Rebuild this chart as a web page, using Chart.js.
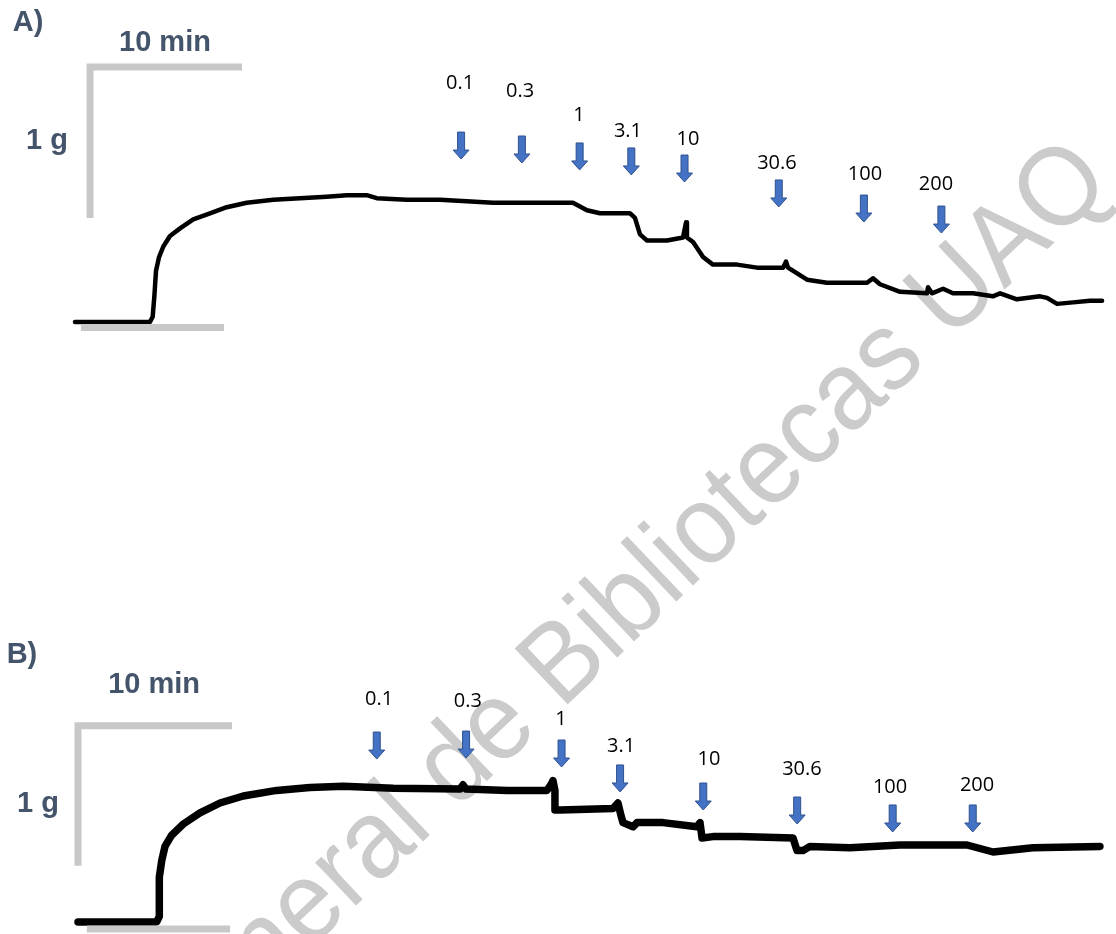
<!DOCTYPE html>
<html>
<head>
<meta charset="utf-8">
<script src="https://cdn.jsdelivr.net/npm/chart.js@4.4.1/dist/chart.umd.min.js"></script>
<style>
  html, body { margin: 0; padding: 0; background: #ffffff; }
  #wrap { position: relative; width: 1116px; height: 934px; overflow: hidden; }
  canvas { display: block; }
</style>
</head>
<body>
<div id="wrap"><canvas id="rec" width="1116" height="934"></canvas></div>
<script>
// Cumulative concentrations added at each arrow
const doses = ['0.1', '0.3', '1', '3.1', '10', '30.6', '100', '200'];

// Record A: time (min) and developed tension above baseline (g)
const timeA = [0, 4.93, 5.11, 5.22, 5.33, 5.53, 5.81, 6.25, 6.91, 7.78, 8.88, 9.98, 11.3, 13.05, 14.8,
  16.56, 17.88, 19.19, 19.85, 21.82, 24.01, 27.5, 30.59, 32.76, 33.68, 34.54, 36.51, 36.84, 37.17, 37.63,
  38.95, 40.0, 40.2, 40.26, 40.66, 41.32, 41.97, 43.55, 44.87, 46.58, 46.78, 46.91, 48.16, 49.47, 52.11,
  52.5, 52.96, 54.28, 56.05, 56.12, 56.38, 57.11, 57.76, 59.08, 60.39, 60.86, 61.97, 63.49, 63.95, 64.61,
  65.66, 66.78, 67.57];
const tensionA = [0, 0, 0.035, 0.17, 0.34, 0.43, 0.50, 0.57, 0.62, 0.68, 0.72, 0.76, 0.79, 0.81, 0.82,
  0.83, 0.84, 0.84, 0.82, 0.81, 0.81, 0.79, 0.79, 0.79, 0.74, 0.72, 0.72, 0.69, 0.58, 0.54,
  0.54, 0.56, 0.66, 0.56, 0.53, 0.43, 0.38, 0.38, 0.36, 0.36, 0.40, 0.36, 0.28, 0.26, 0.26,
  0.29, 0.25, 0.20, 0.19, 0.23, 0.19, 0.22, 0.19, 0.19, 0.17, 0.19, 0.15, 0.17, 0.16, 0.12,
  0.13, 0.14, 0.14];
const doseTimeA = [25.4, 29.4, 33.2, 36.6, 40.1, 46.3, 51.9, 57.0];

// Record B
const timeB = [0, 5.11, 5.28, 5.28, 5.44, 5.65, 6.08, 6.84, 7.92, 9.22, 10.73, 12.9, 15.06, 17.23, 20.47,
  24.81, 25.0, 25.19, 27.86, 30.45, 30.71, 30.84, 30.97, 30.97, 31.3, 34.74, 35.06, 35.26, 35.39, 36.04,
  36.3, 37.99, 40.19, 40.39, 40.52, 41.23, 42.99, 46.43, 46.69, 47.08, 47.53, 50.13, 53.38, 57.73, 59.42,
  62.01, 66.36];
const tensionB = [0, 0, 0.04, 0.32, 0.44, 0.54, 0.62, 0.70, 0.78, 0.85, 0.90, 0.94, 0.96, 0.97, 0.955,
  0.95, 0.98, 0.95, 0.94, 0.94, 0.98, 1.01, 0.94, 0.80, 0.80, 0.81, 0.85, 0.76, 0.71, 0.68,
  0.71, 0.71, 0.68, 0.71, 0.60, 0.61, 0.61, 0.60, 0.51, 0.51, 0.54, 0.53, 0.55, 0.55, 0.50,
  0.53, 0.54];
const doseTimeB = [19.4, 25.2, 31.4, 35.2, 40.6, 46.7, 52.9, 58.1];

// Calibration bars
const barMinutes = 10;
const barGrams = 1;

// Placement of annotations, in each record's own units (min, g)
const placeA = {
  arrowTip:   [1.079, 1.053, 1.007, 0.974, 0.927, 0.762, 0.662, 0.589],
  labelTime:  [25.33, 29.28, 33.16, 36.38, 40.33, 46.18, 51.97, 56.64],
  labelLevel: [1.589, 1.536, 1.377, 1.272, 1.219, 1.060, 0.987, 0.921],
  bar: { t: 0.99, g: 1.689 },
  base: { t0: 0.39, t1: 9.8, g: -0.036 },
  letter: { text: 'A)', t: -3.09, g: 1.993 },
  minText: { t: 5.92, g: 1.863 },
  gText: { t: -1.84, g: 1.212 }
};
const placeB = {
  arrowTip:   [1.164, 1.171, 1.107, 0.929, 0.800, 0.700, 0.643, 0.643],
  labelTime:  [19.55, 25.32, 31.36, 35.26, 40.97, 47.01, 52.73, 58.38],
  labelLevel: [1.600, 1.586, 1.457, 1.264, 1.171, 1.100, 0.971, 0.986],
  bar: { t: 0.0, g: 1.402 },
  base: { t0: 0.58, t1: 9.87, g: -0.05 },
  letter: { text: 'B)', t: -3.64, g: 1.921 },
  minText: { t: 4.94, g: 1.707 },
  gText: { t: -2.6, g: 0.857 }
};

const pts = (xs, ys) => xs.map((x, i) => ({ x: x, y: ys[i] }));
const barPath = p => [
  { x: p.bar.t + barMinutes, y: p.bar.g },
  { x: p.bar.t, y: p.bar.g },
  { x: p.bar.t, y: p.bar.g - barGrams }
];
const basePath = p => [{ x: p.base.t0, y: p.base.g }, { x: p.base.t1, y: p.base.g }];

const grey = '#c8c8c8';
const barStyle = {
  borderColor: grey, borderWidth: 7, borderCapStyle: 'butt', borderJoinStyle: 'miter',
  pointRadius: 0, fill: false, tension: 0
};
const traceStyle = {
  borderColor: '#000000', borderCapStyle: 'round', borderJoinStyle: 'round',
  pointRadius: 0, fill: false, tension: 0
};

function drawArrow(ctx, x, tipY) {
  const len = 27, shaft = 3.5, head = 8, headLen = 9;
  ctx.beginPath();
  ctx.moveTo(x - shaft, tipY - len);
  ctx.lineTo(x + shaft, tipY - len);
  ctx.lineTo(x + shaft, tipY - headLen);
  ctx.lineTo(x + head, tipY - headLen);
  ctx.lineTo(x, tipY);
  ctx.lineTo(x - head, tipY - headLen);
  ctx.lineTo(x - shaft, tipY - headLen);
  ctx.closePath();
  ctx.fillStyle = '#4472C4';
  ctx.fill();
  ctx.lineWidth = 1;
  ctx.strokeStyle = '#2F528F';
  ctx.stroke();
}

// Centre text vertically on its cap height
function capText(ctx, text, x, y, size) {
  ctx.fillText(text, x, y + size * 0.358);
}

const recordNotes = {
  id: 'recordNotes',
  beforeDatasetsDraw(chart) {
    // library stamp running diagonally behind both records
    const ctx = chart.ctx;
    ctx.save();
    ctx.translate(1114, 186);
    ctx.rotate(-43.5 * Math.PI / 180);
    ctx.scale(0.934, 1);
    ctx.font = '112px "Liberation Sans", Arial, sans-serif';
    ctx.fillStyle = '#cbcbcb';
    ctx.textAlign = 'right';
    ctx.textBaseline = 'alphabetic';
    ctx.fillText('Dirección General de Bibliotecas UAQ', 0, 0);
    ctx.restore();
  },
  afterDatasetsDraw(chart) {
    const ctx = chart.ctx;
    const panels = [
      { p: placeA, doseT: doseTimeA, xs: chart.scales.xA, ys: chart.scales.yA },
      { p: placeB, doseT: doseTimeB, xs: chart.scales.xB, ys: chart.scales.yB }
    ];
    ctx.save();
    panels.forEach(({ p, doseT, xs, ys }) => {
      doseT.forEach((t, i) => drawArrow(ctx, xs.getPixelForValue(t), ys.getPixelForValue(p.arrowTip[i])));
      ctx.fillStyle = '#000000';
      ctx.textAlign = 'center';
      ctx.textBaseline = 'alphabetic';
      ctx.font = '20px "Open Sans", "Noto Sans", sans-serif';
      doses.forEach((d, i) => {
        ctx.fillText(d, xs.getPixelForValue(p.labelTime[i]), ys.getPixelForValue(p.labelLevel[i]) + 7.1);
      });
      const bold = 29;
      ctx.font = 'bold ' + bold + 'px "Liberation Sans", Arial, sans-serif';
      ctx.fillStyle = '#44546A';
      capText(ctx, p.letter.text, xs.getPixelForValue(p.letter.t), ys.getPixelForValue(p.letter.g), bold);
      capText(ctx, barMinutes + ' min', xs.getPixelForValue(p.minText.t), ys.getPixelForValue(p.minText.g), bold);
      capText(ctx, barGrams + ' g', xs.getPixelForValue(p.gText.t), ys.getPixelForValue(p.gText.g), bold);
    });
    ctx.restore();
  }
};

const hidden = (axis, min, max) => ({ type: 'linear', axis: axis, display: false, min: min, max: max });

new Chart(document.getElementById('rec'), {
  type: 'line',
  data: {
    datasets: [
      { label: 'Calibration A', data: barPath(placeA), xAxisID: 'xA', yAxisID: 'yA', ...barStyle },
      { label: 'Baseline A', data: basePath(placeA), xAxisID: 'xA', yAxisID: 'yA', ...barStyle },
      { label: 'Tension A', data: pts(timeA, tensionA), xAxisID: 'xA', yAxisID: 'yA', borderWidth: 4.5, ...traceStyle },
      { label: 'Calibration B', data: barPath(placeB), xAxisID: 'xB', yAxisID: 'yB', ...barStyle },
      { label: 'Baseline B', data: basePath(placeB), xAxisID: 'xB', yAxisID: 'yB', ...barStyle },
      { label: 'Tension B', data: pts(timeB, tensionB), xAxisID: 'xB', yAxisID: 'yB', borderWidth: 7.5, ...traceStyle }
    ]
  },
  options: {
    responsive: false,
    animation: false,
    events: [],
    layout: { padding: 0 },
    plugins: { legend: { display: false }, tooltip: { enabled: false } },
    scales: {
      xA: hidden('x', -75 / 15.2, 1041 / 15.2),
      yA: hidden('y', (322 - 934) / 151, 322 / 151),
      xB: hidden('x', -78 / 15.4, 1038 / 15.4),
      yB: hidden('y', (922 - 934) / 140, 922 / 140)
    }
  },
  plugins: [recordNotes]
});
</script>
</body>
</html>
